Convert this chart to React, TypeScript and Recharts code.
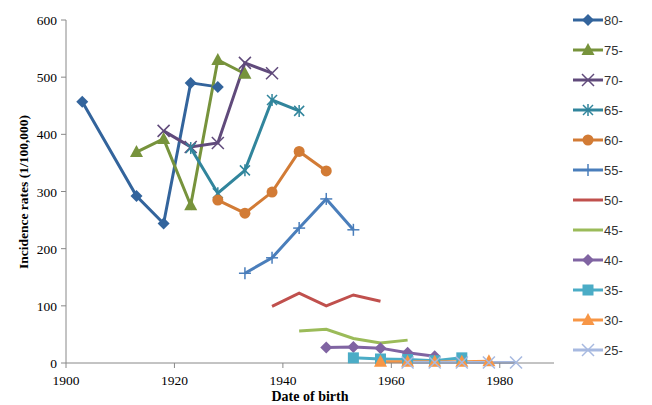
import { LineChart, Line, XAxis, YAxis, Legend, Label } from "recharts";

// birth cohort years and incidence rates per age group
const years80 = [1903, 1913, 1918, 1923, 1928];
const rates80 = [457, 292, 244, 490, 483];
const years75 = [1913, 1918, 1923, 1928, 1933];
const rates75 = [369, 392, 276, 530, 506];
const years70 = [1918, 1923, 1928, 1933, 1938];
const rates70 = [406, 378, 385, 525, 507];
const years65 = [1923, 1928, 1933, 1938, 1943];
const rates65 = [376, 297, 337, 460, 441];
const years60 = [1928, 1933, 1938, 1943, 1948];
const rates60 = [285, 262, 299, 370, 336];
const years55 = [1933, 1938, 1943, 1948, 1953];
const rates55 = [157, 184, 236, 287, 233];
const years50 = [1938, 1943, 1948, 1953, 1958];
const rates50 = [99, 122, 100, 119, 108];
const years45 = [1943, 1948, 1953, 1958, 1963];
const rates45 = [56, 59, 43, 35, 40];
const years40 = [1948, 1953, 1958, 1963, 1968];
const rates40 = [27, 28, 26, 18, 12];
const years35 = [1953, 1958, 1963, 1968, 1973];
const rates35 = [9, 7, 6, 4, 9];
const years30 = [1958, 1963, 1968, 1973, 1978];
const rates30 = [2, 2, 2, 2, 3];
const years25 = [1963, 1968, 1973, 1978, 1983];
const rates25 = [1, 1, 1, 1, 1];

const xTicks = [1900, 1920, 1940, 1960, 1980];
const yTicks = [0, 100, 200, 300, 400, 500, 600];

type Shape = "diamond" | "triangle" | "x" | "star" | "circle" | "plus" | "square" | "none";

const serif = "Liberation Serif";

const toRows = (years: number[], rates: number[]) =>
  years.map((year, i) => ({ year, rate: rates[i] }));

const series: { name: string; color: string; shape: Shape; data: { year: number; rate: number }[] }[] = [
  { name: "80-", color: "#33649C", shape: "diamond", data: toRows(years80, rates80) },
  { name: "75-", color: "#77933C", shape: "triangle", data: toRows(years75, rates75) },
  { name: "70-", color: "#604A7B", shape: "x", data: toRows(years70, rates70) },
  { name: "65-", color: "#31859C", shape: "star", data: toRows(years65, rates65) },
  { name: "60-", color: "#D27B35", shape: "circle", data: toRows(years60, rates60) },
  { name: "55-", color: "#4A7EBB", shape: "plus", data: toRows(years55, rates55) },
  { name: "50-", color: "#C0504D", shape: "none", data: toRows(years50, rates50) },
  { name: "45-", color: "#9BBB59", shape: "none", data: toRows(years45, rates45) },
  { name: "40-", color: "#8064A2", shape: "diamond", data: toRows(years40, rates40) },
  { name: "35-", color: "#4BACC6", shape: "square", data: toRows(years35, rates35) },
  { name: "30-", color: "#F79646", shape: "triangle", data: toRows(years30, rates30) },
  { name: "25-", color: "#A7B9E0", shape: "x", data: toRows(years25, rates25) },
];

function Marker({ shape, x, y, color }: { shape: Shape; x: number; y: number; color: string }) {
  switch (shape) {
    case "diamond":
      return <polygon points={`${x},${y - 6} ${x + 6},${y} ${x},${y + 6} ${x - 6},${y}`} fill={color} />;
    case "triangle":
      return <polygon points={`${x},${y - 7} ${x + 6.5},${y + 5} ${x - 6.5},${y + 5}`} fill={color} />;
    case "circle":
      return <circle cx={x} cy={y} r={5.5} fill={color} />;
    case "square":
      return <rect x={x - 5.5} y={y - 5.5} width={11} height={11} fill={color} />;
    case "x":
      return (
        <g stroke={color} strokeWidth={1.5}>
          <line x1={x - 6} y1={y - 6} x2={x + 6} y2={y + 6} />
          <line x1={x - 6} y1={y + 6} x2={x + 6} y2={y - 6} />
        </g>
      );
    case "star":
      return (
        <g stroke={color} strokeWidth={1.5}>
          <line x1={x - 5} y1={y - 5} x2={x + 5} y2={y + 5} />
          <line x1={x - 5} y1={y + 5} x2={x + 5} y2={y - 5} />
          <line x1={x} y1={y - 6} x2={x} y2={y + 6} />
        </g>
      );
    case "plus":
      return (
        <g stroke={color} strokeWidth={1.5}>
          <line x1={x - 6} y1={y} x2={x + 6} y2={y} />
          <line x1={x} y1={y - 6} x2={x} y2={y + 6} />
        </g>
      );
    default:
      return null;
  }
}

const XTick = ({ x, y, payload }: any) => (
  <text x={x} y={y + 13} textAnchor="middle" fontFamily={serif} fontSize={13.5} fill="#000">
    {payload.value}
  </text>
);

const YTick = ({ x, y, payload }: any) => (
  <text x={x} y={y + 5} textAnchor="end" fontFamily={serif} fontSize={13.5} fill="#000">
    {payload.value}
  </text>
);

function renderLegend() {
  return (
    <div style={{ fontFamily: "'Liberation Sans', Arial, sans-serif", fontSize: 13, color: "#333" }}>
      {series.map((s) => (
        <div key={s.name} style={{ display: "flex", alignItems: "center", height: 30 }}>
          <svg width={32} height={16} style={{ display: "block" }}>
            <line x1={1} y1={8} x2={31} y2={8} stroke={s.color} strokeWidth={3} />
            <Marker shape={s.shape} x={16} y={8} color={s.color} />
          </svg>
          <span>{s.name}</span>
        </div>
      ))}
    </div>
  );
}

export default function App() {
  return (
    <div style={{ position: "absolute", left: 0, top: 0 }}>
      <LineChart width={652} height={405} margin={{ top: 20, right: 98, left: 0, bottom: 0 }}>
        <XAxis
          dataKey="year"
          type="number"
          domain={[1900, 1990]}
          ticks={xTicks}
          allowDuplicatedCategory={false}
          height={42}
          tickSize={5}
          tickMargin={4}
          stroke="#888"
          tick={XTick}
        >
          <Label
            content={({ viewBox }: any) => (
              <text
                x={310}
                y={viewBox.y + 38}
                textAnchor="middle"
                fontFamily={serif}
                fontWeight="bold"
                fontSize={14}
                fill="#000"
              >
                Date of birth
              </text>
            )}
          />
        </XAxis>
        <YAxis
          type="number"
          domain={[0, 600]}
          ticks={yTicks}
          width={66}
          tickSize={5}
          tickMargin={4}
          stroke="#888"
          tick={YTick}
        >
          <Label
            content={() => (
              <text
                x={0}
                y={0}
                transform="translate(28,192) rotate(-90)"
                textAnchor="middle"
                fontFamily={serif}
                fontWeight="bold"
                fontSize={13.5}
                fill="#000"
              >
                Incidence rates (1/100,000)
              </text>
            )}
          />
        </YAxis>
        <Legend
          layout="vertical"
          align="center"
          verticalAlign="middle"
          content={renderLegend}
          wrapperStyle={{ left: 572, top: 5, width: 80, height: 360 }}
        />
        {series.map((s) => (
          <Line
            key={s.name}
            data={s.data}
            dataKey="rate"
            name={s.name}
            stroke={s.color}
            strokeWidth={3}
            isAnimationActive={false}
            activeDot={false}
            dot={
              s.shape === "none"
                ? false
                : (p: any) => <Marker key={`${s.name}-${p.index}`} shape={s.shape} x={p.cx} y={p.cy} color={s.color} />
            }
          />
        ))}
      </LineChart>
    </div>
  );
}
